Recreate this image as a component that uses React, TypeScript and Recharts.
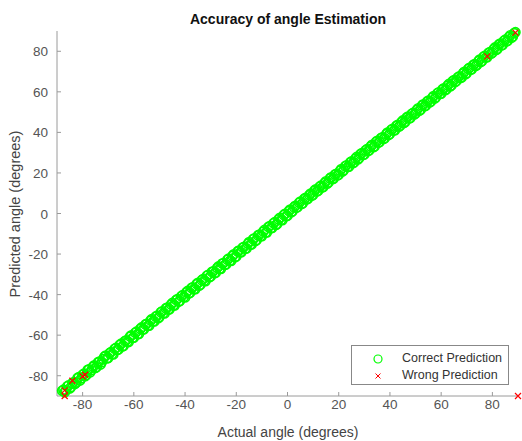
import { ScatterChart, Scatter, XAxis, YAxis } from 'recharts';

const FONT = '"Liberation Sans", Arial, Helvetica, sans-serif';

// correct predictions: actual angle vs predicted angle (degrees)
const correctActual = [
  -88, -87, -86, -85, -84, -83, -82, -81, -80, -79,
  -78, -77, -76, -75, -74, -73, -72, -71, -70, -69,
  -68, -67, -66, -65, -64, -63, -62, -61, -60, -59,
  -58, -57, -56, -55, -54, -53, -52, -51, -50, -49,
  -48, -47, -46, -45, -44, -43, -42, -41, -40, -39,
  -38, -37, -36, -35, -34, -33, -32, -31, -30, -29,
  -28, -27, -26, -25, -24, -23, -22, -21, -20, -19,
  -18, -17, -16, -15, -14, -13, -12, -11, -10, -9,
  -8, -7, -6, -5, -4, -3, -2, -1, 0, 1,
  2, 3, 4, 5, 6, 7, 8, 9, 10, 11,
  12, 13, 14, 15, 16, 17, 18, 19, 20, 21,
  22, 23, 24, 25, 26, 27, 28, 29, 30, 31,
  32, 33, 34, 35, 36, 37, 38, 39, 40, 41,
  42, 43, 44, 45, 46, 47, 48, 49, 50, 51,
  52, 53, 54, 55, 56, 57, 58, 59, 60, 61,
  62, 63, 64, 65, 66, 67, 68, 69, 70, 71,
  72, 73, 74, 75, 76, 77, 78, 79, 80, 81,
  82, 83, 84, 85, 86, 87, 88, 89,
  -87.5, -86.5, -85.5, -84.5, -83.5, -82.5, -81.5, -80.5, -79.5, -78.5,
  -77.5, -76.5, -75.5, -74.5, -73.5, -72.5, -71.5, -70.5, -69.5, -68.5,
  -67.5, -66.5, -65.5, -64.5, -63.5, -62.5, -61.5, -60.5, -59.5, -58.5,
  -57.5, -56.5, -55.5, -54.5, -53.5, -52.5, -51.5, -50.5, -49.5, -48.5,
  -47.5, -46.5, -45.5, -44.5, -43.5, -42.5, -41.5, -40.5, -39.5, -38.5,
  -37.5, -36.5, -35.5, -34.5, -33.5, -32.5, -31.5, -30.5, -29.5, -28.5,
  -27.5, -26.5, -25.5, -24.5, -23.5, -22.5, -21.5, -20.5, -19.5, -18.5,
  -17.5, -16.5, -15.5, -14.5, -13.5, -12.5, -11.5, -10.5, -9.5, -8.5,
  -7.5, -6.5, -5.5, -4.5, -3.5, -2.5, -1.5, -0.5, 0.5, 1.5,
  2.5, 3.5, 4.5, 5.5, 6.5, 7.5, 8.5, 9.5, 10.5, 11.5,
  12.5, 13.5, 14.5, 15.5, 16.5, 17.5, 18.5, 19.5, 20.5, 21.5,
  22.5, 23.5, 24.5, 25.5, 26.5, 27.5, 28.5, 29.5, 30.5, 31.5,
  32.5, 33.5, 34.5, 35.5, 36.5, 37.5, 38.5, 39.5, 40.5, 41.5,
  42.5, 43.5, 44.5, 45.5, 46.5, 47.5, 48.5, 49.5, 50.5, 51.5,
  52.5, 53.5, 54.5, 55.5, 56.5, 57.5, 58.5, 59.5, 60.5, 61.5,
  62.5, 63.5, 64.5, 65.5, 66.5, 67.5, 68.5, 69.5, 70.5, 71.5,
  72.5, 73.5, 74.5, 75.5, 76.5, 77.5, 78.5, 79.5, 80.5, 81.5,
  82.5, 83.5, 84.5, 85.5, 86.5, 87.5, 88.5,
];
const correctPredicted = [
  -87.4, -88.1, -85.2, -86.3, -83.6, -84.1, -81.2, -82.4, -79.5, -80.2,
  -77.1, -78.3, -75.6, -76.2, -73.4, -74.5, -71.8, -70.1, -71.2, -68.4,
  -69.5, -66.3, -67.1, -64.2, -65.3, -62.5, -63.4, -60.1, -61.2, -58.3,
  -59.4, -56.2, -57.1, -54.4, -55.3, -52.1, -53.2, -50.5, -51.1, -48.2,
  -49.3, -46.4, -47.2, -44.1, -45.3, -42.2, -43.1, -40.3, -41.4, -38.2,
  -39.1, -36.4, -37.3, -34.2, -35.1, -32.3, -33.4, -30.2, -31.1, -28.5,
  -29.2, -26.1, -27.3, -24.4, -25.1, -22.2, -23.4, -20.1, -21.2, -18.3,
  -19.1, -16.4, -17.2, -14.1, -15.3, -12.2, -13.1, -10.4, -11.2, -8.1,
  -9.3, -6.2, -7.1, -4.3, -5.2, -2.1, -3.3, -0.2, -1.1, 1.9,
  1.1, 3.8, 3.2, 5.9, 5.1, 7.7, 7.3, 9.8, 9.2, 11.9,
  11.2, 13.7, 13.1, 15.9, 15.3, 17.8, 17.2, 19.6, 19.1, 21.9,
  21.3, 23.8, 23.1, 25.7, 25.2, 27.9, 27.3, 29.8, 29.1, 31.7,
  31.2, 33.9, 33.1, 35.8, 35.3, 37.6, 37.1, 39.9, 39.2, 41.8,
  41.1, 43.7, 43.3, 45.9, 45.2, 47.8, 47.1, 49.6, 49.3, 51.9,
  51.2, 53.8, 53.1, 55.7, 55.2, 57.9, 57.3, 59.8, 59.1, 61.7,
  61.2, 63.9, 63.1, 65.8, 65.3, 67.6, 67.1, 69.9, 69.2, 71.8,
  71.1, 73.7, 73.3, 75.9, 75.2, 77.8, 77.1, 79.6, 79.3, 81.9,
  81.2, 83.8, 83.1, 85.7, 85.2, 87.9, 87.3, 89.4,
  -86.9, -87.3, -84.8, -85.6, -83.1, -83.4, -80.7, -81.3, -79.0, -79.6,
  -76.8, -77.2, -74.9, -75.7, -73.0, -73.3, -70.6, -71.5, -68.9, -69.4,
  -66.7, -67.3, -64.8, -65.6, -62.9, -63.2, -60.7, -61.4, -58.8, -59.5,
  -56.9, -57.2, -54.7, -55.4, -52.8, -53.3, -50.9, -51.6, -48.7, -49.2,
  -46.8, -47.4, -44.9, -45.3, -42.7, -43.5, -40.8, -41.2, -38.9, -39.4,
  -36.7, -37.3, -34.8, -35.6, -32.9, -33.2, -30.7, -31.4, -28.8, -29.5,
  -26.9, -27.2, -24.7, -25.4, -22.8, -23.3, -20.9, -21.6, -18.7, -19.2,
  -16.8, -17.4, -14.9, -15.3, -12.7, -13.5, -10.8, -11.2, -8.9, -9.4,
  -6.7, -7.3, -4.8, -5.6, -2.9, -3.2, -0.7, -1.4, 1.2, 0.6,
  3.1, 2.8, 5.3, 4.7, 7.2, 6.9, 9.1, 8.8, 11.3, 10.9,
  13.2, 12.8, 15.1, 14.7, 17.3, 16.9, 19.2, 18.8, 21.1, 20.7,
  23.3, 22.9, 25.2, 24.8, 27.1, 26.7, 29.3, 28.9, 31.2, 30.8,
  33.1, 32.7, 35.3, 34.9, 37.2, 36.8, 39.1, 38.7, 41.3, 40.9,
  43.2, 42.8, 45.1, 44.7, 47.3, 46.9, 49.2, 48.8, 51.1, 50.7,
  53.3, 52.9, 55.2, 54.8, 57.1, 56.7, 59.3, 58.9, 61.2, 60.8,
  63.1, 62.7, 65.3, 64.9, 67.2, 66.8, 69.1, 68.7, 71.3, 70.9,
  73.2, 72.8, 75.1, 74.7, 77.3, 76.9, 79.2, 78.8, 81.1, 80.7,
  83.3, 82.9, 85.2, 84.8, 87.1, 86.7, 89.0,
];

// wrong predictions
const wrongActual = [-87, -87, -84, -80, -79, 78, 89, 90];
const wrongPredicted = [-87.2, -90, -82.5, -80.3, -79.5, 77.5, 89.2, -90];

const axisTicks = [-80, -60, -40, -20, 0, 20, 40, 60, 80];

const correctData = correctActual.map((a, i) => ({ actual: a, predicted: correctPredicted[i] }));
const wrongData = wrongActual.map((a, i) => ({ actual: a, predicted: wrongPredicted[i] }));

const axisColor = '#9a9a9a';
const tickColor = '#555555';

function Ring(props: any) {
  const { cx, cy } = props;
  return <circle cx={cx} cy={cy} r={4.5} fill="none" stroke="#00ff00" strokeWidth={1.7} />;
}

function Cross(props: any) {
  const { cx, cy } = props;
  const s = 3;
  return (
    <path
      d={`M${cx - s},${cy - s}L${cx + s},${cy + s}M${cx - s},${cy + s}L${cx + s},${cy - s}`}
      stroke="#ff0000"
      strokeWidth={1.2}
      fill="none"
    />
  );
}

function XTick(props: any) {
  const { x, y, payload } = props;
  return (
    <g>
      <line x1={x} x2={x} y1={y} y2={y - 4} stroke={axisColor} />
      <text x={x} y={y + 13} textAnchor="middle" fontSize={13.5} fontFamily={FONT} fill={tickColor}>
        {payload.value}
      </text>
    </g>
  );
}

function YTick(props: any) {
  const { x, y, payload } = props;
  return (
    <g>
      <line x1={x} x2={x + 4} y1={y} y2={y} stroke={axisColor} />
      <text x={x - 9} y={y + 5} textAnchor="end" fontSize={13.5} fontFamily={FONT} fill={tickColor}>
        {payload.value}
      </text>
    </g>
  );
}

export default function App() {
  return (
    <div style={{ position: 'fixed', left: 0, top: 0, width: 522, height: 441, background: '#fff', fontFamily: FONT }}>
      <ScatterChart width={522} height={441} margin={{ top: 31, right: 4, bottom: 0, left: 0 }}>
        <XAxis
          type="number"
          dataKey="actual"
          domain={[-90, 90]}
          ticks={axisTicks}
          height={45}
          tickSize={0}
          tickMargin={0}
          tickLine={false}
          axisLine={{ stroke: axisColor }}
          tick={<XTick />}
        />
        <YAxis
          type="number"
          dataKey="predicted"
          domain={[-90, 90]}
          ticks={axisTicks}
          width={57}
          tickSize={0}
          tickMargin={0}
          tickLine={false}
          axisLine={{ stroke: axisColor }}
          tick={<YTick />}
        />
        <Scatter data={correctData} shape={<Ring />} isAnimationActive={false} />
        <Scatter data={wrongData} shape={<Cross />} isAnimationActive={false} />
      </ScatterChart>

      <div style={{ position: 'absolute', left: 288, top: 19, transform: 'translate(-50%, -50%)', fontSize: 14, fontWeight: 'bold', color: '#111', whiteSpace: 'nowrap' }}>
        Accuracy of angle Estimation
      </div>
      <div style={{ position: 'absolute', left: 288, top: 432, transform: 'translate(-50%, -50%)', fontSize: 14, color: '#444', whiteSpace: 'nowrap' }}>
        Actual angle (degrees)
      </div>
      <div style={{ position: 'absolute', left: 15, top: 214, transform: 'translate(-50%, -50%) rotate(-90deg)', fontSize: 14.5, color: '#444', whiteSpace: 'nowrap' }}>
        Predicted angle (degrees)
      </div>

      <div style={{ position: 'absolute', left: 351, top: 345, width: 156, height: 38, border: '1px solid #888', background: '#fff', fontSize: 12.5, color: '#333' }}>
        <svg width={20} height={38} style={{ position: 'absolute', left: 16, top: 0 }}>
          <circle cx={10} cy={13} r={4} fill="none" stroke="#00ff00" strokeWidth={1.2} />
          <path d="M7.5,27.5L12.5,32.5M7.5,32.5L12.5,27.5" stroke="#ff0000" strokeWidth={1} />
        </svg>
        <div style={{ position: 'absolute', left: 50, top: 5, whiteSpace: 'nowrap' }}>Correct Prediction</div>
        <div style={{ position: 'absolute', left: 50, top: 22, whiteSpace: 'nowrap' }}>Wrong Prediction</div>
      </div>
    </div>
  );
}
